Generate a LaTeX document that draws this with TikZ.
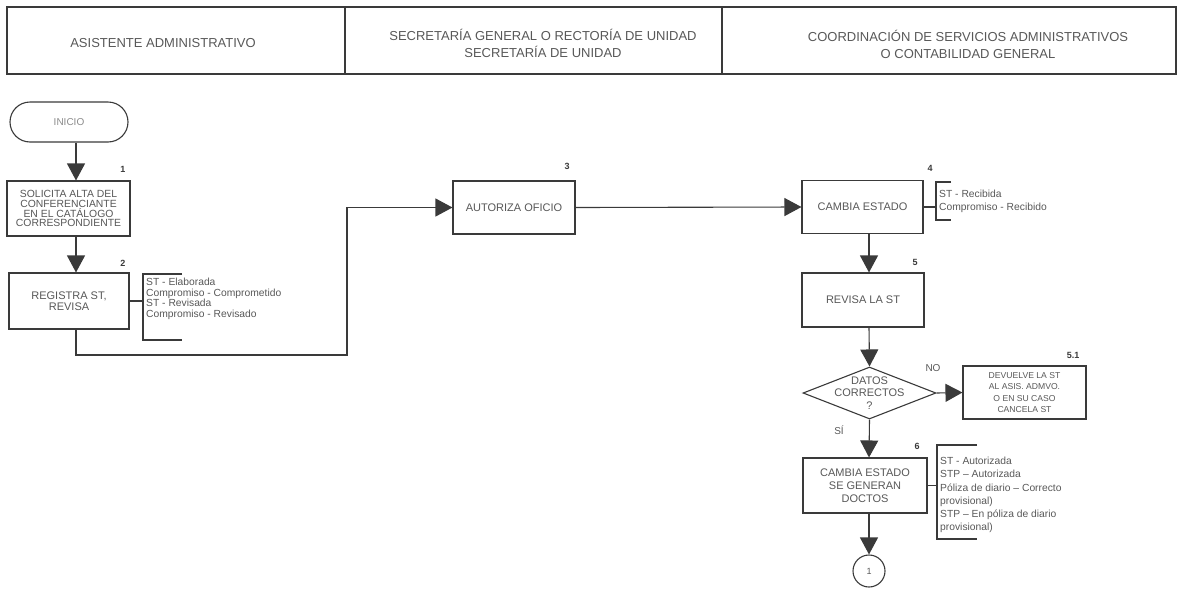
\documentclass[tikz,border=0pt]{standalone}
\usepackage{fontspec}
\setmainfont{Liberation Sans}
\usetikzlibrary{arrows.meta,shapes.geometric,shapes.misc}
\definecolor{ink}{HTML}{3A3A3A}
\definecolor{txt}{HTML}{585858}
\begin{document}
\begin{tikzpicture}[x=1pt,y=-1pt,
  lane/.style={draw=ink, line width=1.4pt, rectangle, inner sep=0pt},
  hdrtext/.style={align=center, text=txt, inner sep=0pt, font=\fontsize{13}{17}\selectfont},
  stepbox/.style={draw=ink, line width=1.1pt, fill=white, rectangle, inner sep=0pt,
    align=center, text=txt, font=\fontsize{11}{12.5}\selectfont},
  arr/.style={draw=ink, line width=1.1pt, -{Triangle[width=18pt,length=17pt]}},
  ln/.style={draw=ink, line width=1.1pt},
  note/.style={anchor=west, align=left, text=txt, inner sep=0pt},
  num/.style={text=ink, inner sep=0pt, font=\fontsize{9}{10}\selectfont\bfseries},
  lbl/.style={text=txt, inner sep=0pt, font=\fontsize{10}{11}\selectfont}]
\useasboundingbox (0,0) rectangle (1178,592);

% swimlane header
\node[lane, minimum width=338pt, minimum height=67pt] (l1) at (176,40.5) {};
\node[lane, minimum width=377pt, minimum height=67pt] (l2) at (533.5,40.5) {};
\node[lane, minimum width=454pt, minimum height=67pt] (l3) at (949,40.5) {};
\node[hdrtext] (h1) at (163,43) {ASISTENTE ADMINISTRATIVO};
\node[hdrtext] (h2) at (543,43.5) {SECRETARÍA GENERAL O RECTORÍA DE UNIDAD\\SECRETARÍA DE UNIDAD};
\node[hdrtext] (h3) at (968,44) {COORDINACIÓN DE SERVICIOS ADMINISTRATIVOS\\O CONTABILIDAD GENERAL};

% column guides for the connectors
\coordinate (colA) at (76,0);
\coordinate (colC) at (869,0);

% assistant lane
\node[draw=ink, line width=1.1pt, rounded rectangle, minimum width=118pt, minimum height=40pt,
  inner sep=0pt, text=txt!70, font=\fontsize{10}{11}\selectfont] (start) at (69,122) {INICIO};
\node[stepbox, minimum width=123pt, minimum height=55pt, font=\fontsize{10.4}{9.9}\selectfont]
  (b1) at (68.5,208.5) {SOLICITA ALTA DEL\\CONFERENCIANTE\\EN EL CATÁLOGO\\CORRESPONDIENTE};
\node[stepbox, minimum width=120pt, minimum height=56pt, font=\fontsize{11}{11.5}\selectfont]
  (b2) at (69,301) {REGISTRA ST,\\REVISA};
\node[num] (n1) at (123,169) {1};
\node[num] (n2) at (123,263) {2};

% secretary lane
\node[stepbox, minimum width=122pt, minimum height=53pt] (b3) at (514,207.5) {AUTORIZA OFICIO};
\node[num] (n3) at (567,166) {3};

% accounting lane
\node[stepbox, minimum width=121pt, minimum height=53pt] (b4) at (862.5,207) {CAMBIA ESTADO};
\node[stepbox, minimum width=122pt, minimum height=54pt] (b5) at (863,300) {REVISA LA ST};
\node[draw=ink, line width=1.1pt, diamond, inner sep=0pt, minimum width=133pt,
  minimum height=52pt, fill=white] (d) at (869.5,393) {};
\node[align=center, text=txt, inner sep=0pt, font=\fontsize{11}{12.5}\selectfont]
  (dt) at (d) {DATOS\\CORRECTOS\\?};
\node[stepbox, minimum width=123pt, minimum height=53pt, font=\fontsize{8.6}{11.4}\selectfont]
  (b51) at (1024.5,392.5) {DEVUELVE LA ST\\AL ASIS. ADMVO.\\O EN SU CASO\\CANCELA ST};
\node[stepbox, minimum width=124pt, minimum height=55pt, font=\fontsize{11}{13}\selectfont]
  (b6) at (865,485.5) {CAMBIA ESTADO\\SE GENERAN\\DOCTOS};
\node[draw=ink, line width=1.1pt, circle, minimum size=32pt, inner sep=0pt, text=txt,
  font=\fontsize{9}{10}\selectfont] (c1) at (869,571) {1};
\node[num] (n4) at (930,168) {4};
\node[num] (n5) at (915,262) {5};
\node[num] (n51) at (1073,355) {5.1};
\node[num] (n6) at (917,446) {6};
\node[lbl] (no) at (933,368) {NO};
\node[lbl] (si) at (839,430) {SÍ};

% flow
\draw[arr] (start.south -| colA) -- (b1.north -| colA);
\draw[arr] (b1.south -| colA) -- (b2.north -| colA);
\coordinate (j1) at (347,355);
\draw[arr] (b2.south -| colA) |- (j1) |- (b3.west);
\draw[arr] (b3.east) -- (b4.west);
\draw[arr] (b4.south -| colC) -- (b5.north -| colC);
\draw[arr] (b5.south -| colC) -- (d.north);
\draw[arr] (d.east) -- (b51.west);
\draw[arr] (d.south) -- (b6.north -| colC);
\draw[arr] (b6.south -| colC) -- (c1.north);

% status notes
\coordinate (k2) at (143,0);
\draw[ln] (b2.east) -- (b2.east -| k2);
\draw[ln] (182,274) -- (143,274) -- (143,340) -- (182,340);
\node[note, font=\fontsize{10.3}{10.6}\selectfont] (a2) at (146,299)
  {ST - Elaborada\\Compromiso - Comprometido\\ST - Revisada\\Compromiso - Revisado};

\coordinate (k4) at (936,0);
\draw[ln] (b4.east) -- (b4.east -| k4);
\draw[ln] (951,182) -- (936,182) -- (936,220) -- (951,220);
\node[note, font=\fontsize{10.3}{13}\selectfont] (a4) at (939,201.5)
  {ST - Recibida\\Compromiso - Recibido};

\coordinate (k6) at (937,0);
\draw[ln] (b6.east) -- (b6.east -| k6);
\draw[ln] (977,445) -- (937,445) -- (937,539) -- (977,539);
\node[note, font=\fontsize{10.3}{13.3}\selectfont] (a6) at (940,495)
  {ST - Autorizada\\STP – Autorizada\\Póliza de diario – Correcto\\provisional)\\STP – En póliza de diario\\provisional)};
\end{tikzpicture}
\end{document}
